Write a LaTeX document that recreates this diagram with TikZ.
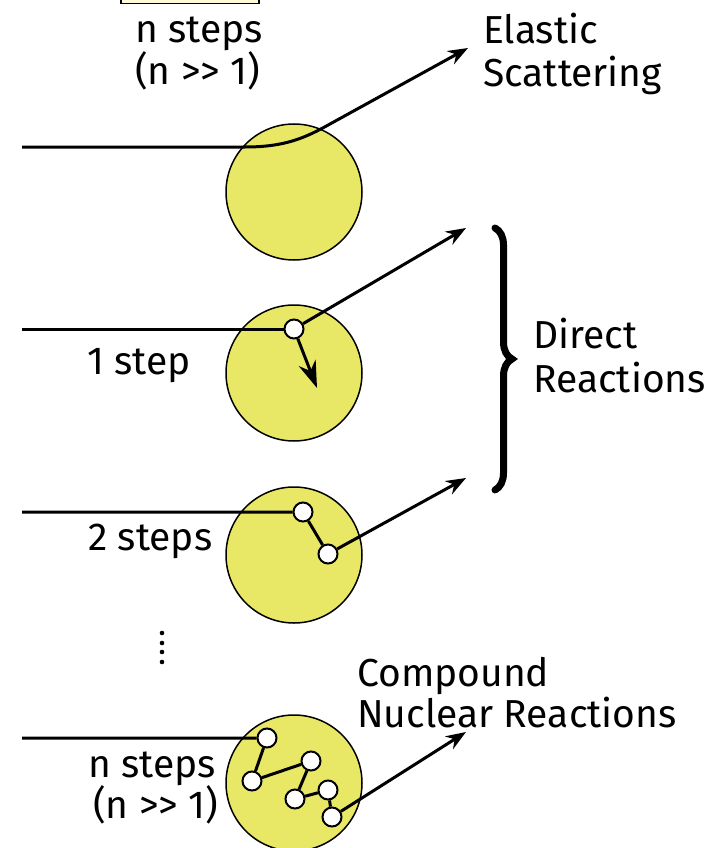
\documentclass[tikz,border=0pt]{standalone}
\usepackage{fontspec}
\setmainfont{Fira Sans}
\usetikzlibrary{positioning,arrows.meta,decorations.pathreplacing}
\definecolor{nucyellow}{RGB}{232,232,102}
\definecolor{boxbeige}{RGB}{255,250,215}

\begin{document}
\begin{tikzpicture}[x=1pt, y=-1pt,
  nucleus/.style={circle, draw, line width=1.5pt, fill=nucyellow, minimum size=136pt, inner sep=0pt},
  hit/.style={circle, draw, line width=2pt, fill=white, minimum size=19pt, inner sep=0pt},
  track/.style={line width=3pt},
  ray/.style={track, -{Stealth[length=20pt,width=15pt]}},
  lbl/.style={font=\fontsize{39}{43}\selectfont, inner sep=0pt, anchor=base west}
]
\useasboundingbox (0,0) rectangle (717,848);

% cropped box at the top edge
\draw[line width=1.5pt, fill=boxbeige] (121,-10) rectangle (259,3.5);

\foreach \n/\y in {1/192, 2/373, 3/555, 4/783}
  \node[nucleus] (nuc\n) at (294,\y) {};

% hit points
\node[hit] (h21) at (294,329) {};
\node[hit] (h31) at (303,512) {};
\node[hit] (h32) at (328,554) {};
\foreach \k/\x/\y in {1/267/738, 2/252/781, 3/311/761, 4/295/799, 5/328/790, 6/332/817}
  \node[hit] (h4\k) at (\x,\y) {};

% free ends
\coordinate (in1) at (22,147);
\coordinate (in2) at (22,329);
\coordinate (in3) at (22,512);
\coordinate (in4) at (22,738);
\coordinate (bend1) at (245,147);
\coordinate (kink1) at (330,124);
\coordinate (tip1) at (468,48);
\coordinate (tip2) at (466,228);
\coordinate (stop2) at (317,388);
\coordinate (tip3) at (466,478);
\coordinate (tip4) at (466,732);

% elastic scattering
\draw[ray] (in1) -- (bend1) .. controls (285,147) and (305,138) .. (kink1) -- (tip1);

% one step
\draw[track] (in2) -- (h21);
\draw[ray] (h21) -- (tip2);
\draw[track, -{Stealth[length=27pt,width=18pt]}] (h21) -- (stop2);

% two steps
\draw[track] (in3) -- (h31) -- (h32);
\draw[ray] (h32) -- (tip3);

% n steps
\draw[track] (in4) -- (h41) -- (h42) -- (h43) -- (h44) -- (h45) -- (h46);
\draw[ray] (h46) -- (tip4);

% vertical dots
\foreach \y in {633, 643, 652, 662}
  \fill (162,\y) circle (2.3pt);

% brace
\draw[line width=7pt, line cap=round, decorate, decoration={brace, amplitude=17pt}]
  (495,228) -- (495,490);

% labels
\node[lbl] (top1) at (135,43) {n steps};
\node[lbl] (top2) at (135,85) {(n >{}> 1)};
\node[lbl] (el1) at (483,44) {Elastic};
\node[lbl] (el2) at (483,87) {Scattering};
\node[lbl] (st1) at (87,374) {1 step};
\node[lbl] (st2) at (88,550) {2 steps};
\node[lbl] (dr1) at (533,348) {Direct};
\node[lbl] (dr2) at (533,392) {Reactions};
\node[lbl] (cn1) at (357,686) {Compound};
\node[lbl] (cn2) at (357,727) {Nuclear Reactions};
\node[lbl] (nst1) at (88,777) {n steps};
\node[lbl] (nst2) at (93,818) {(n >{}> 1)};
\end{tikzpicture}
\end{document}
